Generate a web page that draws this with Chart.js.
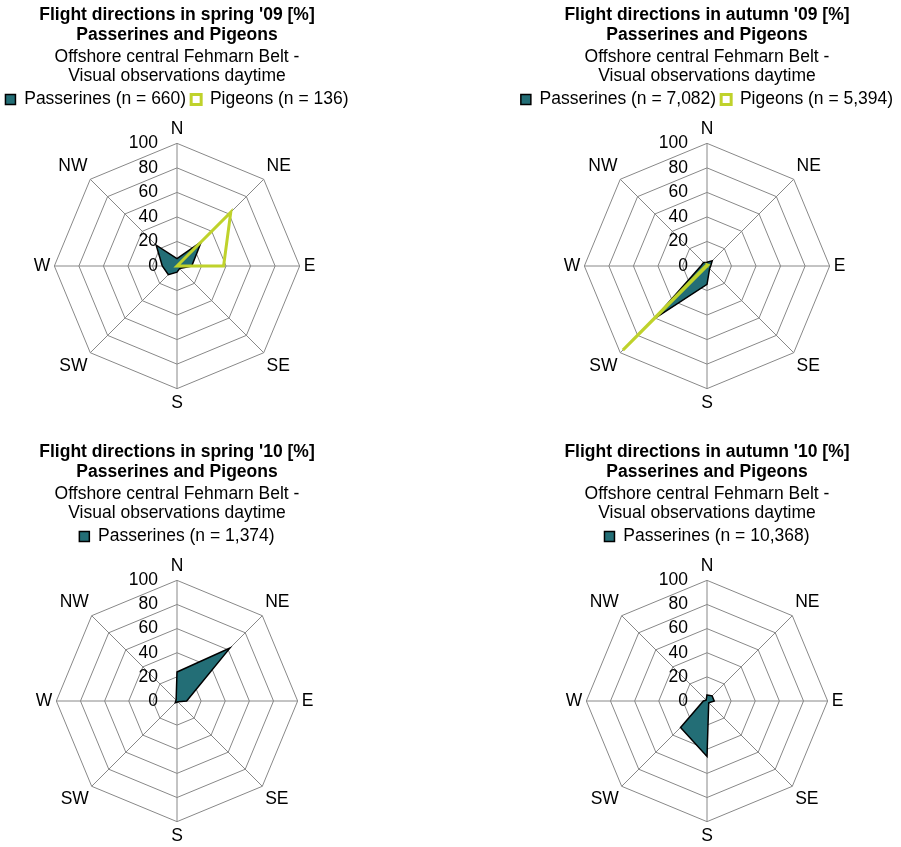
<!DOCTYPE html>
<html>
<head>
<meta charset="utf-8">
<script src="https://cdn.jsdelivr.net/npm/chart.js@4"></script>
<style>
  body { margin: 0; background: #fff; overflow: hidden; }
  .box { position: absolute; }
</style>
</head>
<body>
<div class="box" style="left:-13px;top:0;width:380px;height:420px"><canvas id="c1"></canvas></div>
<div class="box" style="left:507px;top:0;width:400px;height:420px"><canvas id="c2"></canvas></div>
<div class="box" style="left:-13px;top:437px;width:380px;height:416px"><canvas id="c3"></canvas></div>
<div class="box" style="left:507px;top:437px;width:400px;height:416px"><canvas id="c4"></canvas></div>
<script>
const directions = ['N', 'NE', 'E', 'SE', 'S', 'SW', 'W', 'NW'];

const spring09Passerines = [6, 28, 12, 3, 5, 10, 12, 24];
const spring09Pigeons = [0, 62, 38, 0, 0, 0, 0, 0];
const autumn09Passerines = [3, 6, 3, 3, 15, 61, 5, 4];
const autumn09Pigeons = [1, 1, 0, 0, 0, 97, 1, 0];
const spring10Passerines = [24, 62, 8, 1, 1, 2, 1, 1];
const autumn10Passerines = [5, 6, 6, 2, 46, 31, 3, 1];

const FONT = 'Liberation Sans, Arial, sans-serif';
const TEAL = '#236e76';
const LIME = '#bfd22b';

// tick labels drawn right-aligned left of the N axis, like the original
const tickLabels = {
    id: 'tickLabels',
    afterDraw(chart) {
        const s = chart.scales.r, ctx = chart.ctx;
        ctx.save();
        ctx.font = '17.5px ' + FONT;
        ctx.fillStyle = '#000';
        ctx.textAlign = 'right';
        ctx.textBaseline = 'middle';
        s.ticks.forEach(t => {
            ctx.fillText(t.value, s.xCenter - 19, s.yCenter - s.getDistanceFromCenterForValue(t.value));
        });
        ctx.restore();
    }
};

function passerines(n, data) {
    return {
        label: 'Passerines (n = ' + n + ')', data: data, order: 1,
        backgroundColor: TEAL, borderColor: '#000', borderWidth: 1.5,
        pointRadius: 0, fill: true
    };
}
function pigeons(n, data) {
    return {
        label: 'Pigeons (n = ' + n + ')', data: data, order: 0,
        backgroundColor: '#fff', borderColor: LIME, borderWidth: 3,
        pointRadius: 0, fill: false
    };
}

function draw(id, season, sets) {
    new Chart(document.getElementById(id), {
        type: 'radar',
        data: { labels: directions, datasets: sets },
        options: {
            responsive: true, maintainAspectRatio: false, animation: false,
            layout: { padding: { bottom: 6 } },
            plugins: {
                title: {
                    display: true, color: '#000',
                    text: ['Flight directions in ' + season + ' [%]', 'Passerines and Pigeons'],
                    font: { family: FONT, size: 17.5, weight: 'bold', lineHeight: 1.143 },
                    padding: { top: 5, bottom: 0 }
                },
                subtitle: {
                    display: true, color: '#000',
                    text: ['Offshore central Fehmarn Belt -', 'Visual observations daytime'],
                    font: { family: FONT, size: 17.5, lineHeight: 1.11 },
                    padding: { top: 2, bottom: 0 }
                },
                legend: {
                    labels: {
                        color: '#000', boxWidth: 10, boxHeight: 10, padding: 5,
                        font: { family: FONT, size: 17.5 },
                        sort: (a, b) => a.datasetIndex - b.datasetIndex
                    }
                },
                tooltip: { enabled: false }
            },
            scales: {
                r: {
                    min: 0, max: 100,
                    ticks: { stepSize: 20, display: false },
                    grid: { color: '#888', lineWidth: 1 },
                    angleLines: { color: '#888', lineWidth: 1 },
                    pointLabels: { color: '#000', padding: 4, font: { family: FONT, size: 17.5 } }
                }
            }
        },
        plugins: [tickLabels]
    });
}

draw('c1', "spring '09", [passerines('660', spring09Passerines), pigeons('136', spring09Pigeons)]);
draw('c2', "autumn '09", [passerines('7,082', autumn09Passerines), pigeons('5,394', autumn09Pigeons)]);
draw('c3', "spring '10", [passerines('1,374', spring10Passerines)]);
draw('c4', "autumn '10", [passerines('10,368', autumn10Passerines)]);
</script>
</body>
</html>
